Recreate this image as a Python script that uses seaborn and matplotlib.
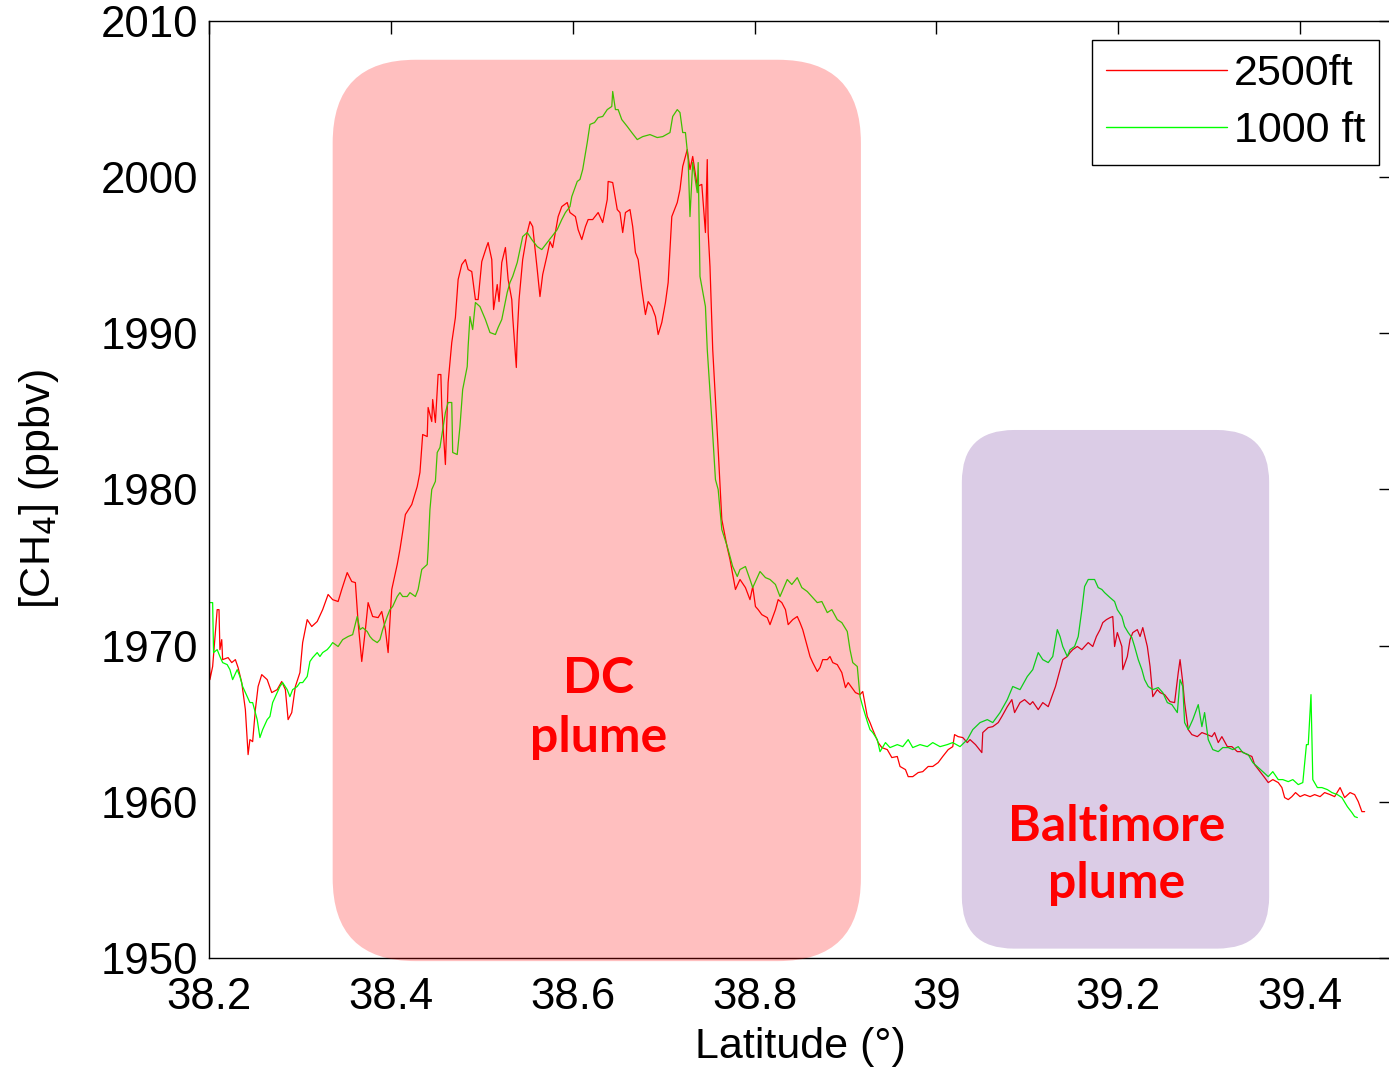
import numpy as np
import pandas as pd
import matplotlib
matplotlib.use("Agg")
import matplotlib.pyplot as plt
from matplotlib.patches import FancyBboxPatch
from matplotlib.lines import Line2D
import seaborn as sns

# ---- flight transects: latitude (deg N) and CH4 mixing ratio (ppbv) ----
lat_2500 = [38.200, 38.201, 38.204, 38.209, 38.211, 38.212, 38.214, 38.215, 38.221, 38.225,
            38.229, 38.232, 38.236, 38.240, 38.243, 38.245, 38.248, 38.251, 38.254, 38.258,
            38.264, 38.269, 38.275, 38.280, 38.284, 38.287, 38.291, 38.295, 38.300, 38.303,
            38.308, 38.313, 38.319, 38.325, 38.331, 38.336, 38.342, 38.346, 38.352, 38.357,
            38.361, 38.364, 38.368, 38.372, 38.375, 38.380, 38.386, 38.390, 38.394, 38.397,
            38.401, 38.407, 38.410, 38.416, 38.423, 38.429, 38.432, 38.435, 38.440, 38.441,
            38.445, 38.446, 38.449, 38.452, 38.455, 38.456, 38.460, 38.463, 38.467, 38.471,
            38.474, 38.478, 38.482, 38.485, 38.489, 38.493, 38.496, 38.500, 38.505, 38.507,
            38.511, 38.513, 38.517, 38.519, 38.522, 38.526, 38.529, 38.533, 38.534, 38.538,
            38.539, 38.541, 38.545, 38.550, 38.553, 38.556, 38.561, 38.564, 38.567, 38.572,
            38.575, 38.578, 38.584, 38.588, 38.594, 38.597, 38.603, 38.606, 38.610, 38.614,
            38.617, 38.622, 38.628, 38.633, 38.638, 38.639, 38.644, 38.649, 38.652, 38.655,
            38.658, 38.663, 38.666, 38.669, 38.672, 38.676, 38.680, 38.683, 38.687, 38.691,
            38.694, 38.698, 38.702, 38.705, 38.709, 38.715, 38.718, 38.721, 38.726, 38.729,
            38.732, 38.737, 38.742, 38.746, 38.748, 38.749, 38.751, 38.754, 38.760, 38.764,
            38.770, 38.773, 38.779, 38.784, 38.790, 38.795, 38.798, 38.801, 38.804, 38.808,
            38.814, 38.817, 38.823, 38.826, 38.830, 38.834, 38.837, 38.842, 38.847, 38.850,
            38.853, 38.858, 38.861, 38.864, 38.869, 38.872, 38.875, 38.880, 38.883, 38.886,
            38.891, 38.896, 38.900, 38.903, 38.907, 38.911, 38.916, 38.919, 38.924, 38.927,
            38.930, 38.936, 38.940, 38.946, 38.951, 38.957, 38.960, 38.966, 38.969, 38.974,
            38.980, 38.985, 38.991, 38.996, 39.002, 39.007, 39.013, 39.018, 39.020, 39.024,
            39.029, 39.034, 39.037, 39.043, 39.050, 39.051, 39.057, 39.062, 39.068, 39.072,
            39.078, 39.083, 39.086, 39.092, 39.097, 39.103, 39.106, 39.112, 39.117, 39.123,
            39.127, 39.131, 39.133, 39.136, 39.139, 39.144, 39.147, 39.150, 39.155, 39.160,
            39.163, 39.167, 39.172, 39.176, 39.180, 39.183, 39.187, 39.191, 39.194, 39.196,
            39.199, 39.204, 39.205, 39.210, 39.213, 39.216, 39.221, 39.224, 39.227, 39.232,
            39.235, 39.238, 39.243, 39.246, 39.251, 39.257, 39.262, 39.266, 39.268, 39.271,
            39.273, 39.277, 39.281, 39.287, 39.292, 39.298, 39.303, 39.306, 39.310, 39.314,
            39.320, 39.325, 39.331, 39.336, 39.342, 39.347, 39.350, 39.356, 39.361, 39.365,
            39.370, 39.376, 39.380, 39.383, 39.387, 39.391, 39.395, 39.400, 39.405, 39.411,
            39.416, 39.422, 39.427, 39.433, 39.438, 39.444, 39.449, 39.455, 39.460, 39.464,
            39.468, 39.471]
ch4_2500 = [1970.51, 1967.82, 1968.66, 1972.30, 1972.30, 1969.74, 1970.38, 1969.10, 1969.23, 1968.91,
            1969.10, 1968.59, 1967.63, 1965.90, 1963.02, 1963.98, 1963.85, 1965.90, 1967.38, 1968.14,
            1967.82, 1966.99, 1967.18, 1967.70, 1967.18, 1965.26, 1965.71, 1967.38, 1968.27, 1970.19,
            1971.66, 1971.22, 1971.54, 1972.30, 1973.27, 1972.94, 1972.82, 1973.59, 1974.67, 1974.10,
            1974.03, 1971.47, 1968.98, 1971.02, 1972.75, 1971.86, 1971.79, 1972.18, 1971.02, 1969.55,
            1973.59, 1975.19, 1976.15, 1978.39, 1979.03, 1980.18, 1981.08, 1983.51, 1983.38, 1985.24,
            1984.34, 1985.75, 1984.28, 1987.35, 1987.35, 1985.30, 1981.59, 1986.84, 1989.40, 1991.00,
            1993.43, 1994.39, 1994.71, 1994.07, 1993.94, 1992.15, 1992.15, 1994.58, 1995.48, 1995.80,
            1994.71, 1991.51, 1993.11, 1992.02, 1994.52, 1995.48, 1993.43, 1992.15, 1991.06, 1987.80,
            1989.91, 1992.15, 1994.71, 1996.44, 1997.14, 1996.82, 1994.07, 1992.34, 1993.75, 1995.03,
            1995.86, 1995.48, 1997.46, 1998.10, 1998.36, 1997.72, 1997.46, 1996.62, 1995.99, 1996.82,
            1997.27, 1997.27, 1997.72, 1997.08, 1998.55, 1999.71, 1999.64, 1997.91, 1997.72, 1996.44,
            1997.72, 1997.91, 1996.82, 1995.16, 1994.71, 1992.79, 1991.19, 1992.02, 1991.70, 1991.06,
            1989.91, 1990.68, 1991.96, 1993.24, 1997.46, 1998.36, 1999.19, 2000.67, 2001.75, 2000.47,
            2001.31, 1999.39, 1999.52, 1996.44, 2001.11, 1996.44, 1994.26, 1988.95, 1982.55, 1978.07,
            1976.27, 1975.51, 1973.59, 1974.23, 1973.71, 1972.94, 1973.78, 1972.50, 1972.30, 1971.98,
            1971.79, 1971.34, 1972.30, 1972.94, 1972.75, 1972.30, 1971.34, 1971.66, 1971.86, 1971.47,
            1971.02, 1969.94, 1969.30, 1968.91, 1968.34, 1968.59, 1969.10, 1969.10, 1969.30, 1968.91,
            1968.78, 1968.27, 1967.31, 1967.63, 1967.31, 1966.99, 1966.86, 1967.06, 1965.46, 1965.07,
            1964.62, 1963.79, 1963.47, 1963.34, 1962.83, 1962.90, 1962.26, 1962.06, 1961.61, 1961.61,
            1961.87, 1961.93, 1962.26, 1962.26, 1962.51, 1962.90, 1963.34, 1963.53, 1964.30, 1964.17,
            1964.11, 1963.79, 1963.98, 1963.66, 1963.15, 1964.43, 1964.75, 1964.81, 1965.07, 1965.46,
            1966.09, 1966.54, 1965.71, 1966.35, 1966.54, 1966.22, 1966.41, 1965.90, 1966.35, 1966.09,
            1966.73, 1967.38, 1967.82, 1968.46, 1969.10, 1969.30, 1969.55, 1969.74, 1969.94, 1969.74,
            1969.94, 1970.19, 1969.94, 1970.58, 1971.02, 1971.47, 1971.66, 1971.79, 1971.86, 1969.94,
            1970.83, 1969.94, 1968.46, 1969.30, 1970.38, 1970.83, 1971.02, 1970.58, 1971.15, 1969.94,
            1968.66, 1966.73, 1967.18, 1966.99, 1966.86, 1966.41, 1966.35, 1968.27, 1969.10, 1967.63,
            1966.35, 1964.62, 1964.30, 1964.17, 1964.43, 1964.30, 1964.17, 1964.43, 1963.79, 1964.17,
            1963.53, 1963.53, 1963.21, 1963.21, 1963.02, 1962.90, 1962.38, 1961.93, 1961.55, 1961.23,
            1961.42, 1961.23, 1960.91, 1960.27, 1960.14, 1960.33, 1960.59, 1960.33, 1960.46, 1960.33,
            1960.46, 1960.33, 1960.59, 1960.46, 1960.33, 1960.91, 1960.27, 1960.59, 1960.46, 1960.01,
            1959.37, 1959.37]

lat_1000 = [38.200, 38.204, 38.205, 38.209, 38.212, 38.215, 38.220, 38.223, 38.226, 38.231,
            38.234, 38.237, 38.242, 38.245, 38.248, 38.253, 38.256, 38.259, 38.264, 38.267,
            38.270, 38.275, 38.278, 38.281, 38.286, 38.289, 38.292, 38.297, 38.300, 38.303,
            38.308, 38.311, 38.314, 38.319, 38.322, 38.325, 38.330, 38.333, 38.336, 38.342,
            38.347, 38.353, 38.358, 38.363, 38.366, 38.369, 38.374, 38.377, 38.380, 38.385,
            38.388, 38.391, 38.396, 38.399, 38.402, 38.407, 38.410, 38.413, 38.418, 38.421,
            38.427, 38.430, 38.434, 38.440, 38.441, 38.443, 38.445, 38.449, 38.451, 38.454,
            38.460, 38.463, 38.467, 38.468, 38.473, 38.476, 38.479, 38.484, 38.485, 38.487,
            38.490, 38.493, 38.498, 38.504, 38.509, 38.515, 38.518, 38.522, 38.528, 38.531,
            38.534, 38.539, 38.542, 38.545, 38.550, 38.555, 38.561, 38.566, 38.572, 38.577,
            38.583, 38.588, 38.592, 38.597, 38.599, 38.605, 38.608, 38.611, 38.616, 38.619,
            38.624, 38.628, 38.633, 38.638, 38.643, 38.644, 38.647, 38.650, 38.654, 38.660,
            38.665, 38.671, 38.677, 38.685, 38.693, 38.699, 38.707, 38.710, 38.715, 38.718,
            38.721, 38.724, 38.727, 38.729, 38.732, 38.737, 38.738, 38.740, 38.746, 38.748,
            38.753, 38.757, 38.760, 38.764, 38.770, 38.776, 38.781, 38.784, 38.790, 38.795,
            38.798, 38.806, 38.812, 38.817, 38.823, 38.828, 38.836, 38.841, 38.847, 38.852,
            38.858, 38.863, 38.869, 38.874, 38.880, 38.885, 38.891, 38.896, 38.902, 38.905,
            38.908, 38.913, 38.916, 38.919, 38.924, 38.927, 38.930, 38.935, 38.938, 38.944,
            38.949, 38.957, 38.963, 38.969, 38.974, 38.982, 38.990, 38.996, 39.004, 39.012,
            39.018, 39.026, 39.034, 39.040, 39.048, 39.056, 39.062, 39.070, 39.078, 39.084,
            39.092, 39.100, 39.106, 39.112, 39.117, 39.123, 39.128, 39.133, 39.136, 39.139,
            39.144, 39.147, 39.152, 39.156, 39.160, 39.163, 39.167, 39.171, 39.174, 39.178,
            39.182, 39.185, 39.191, 39.196, 39.199, 39.204, 39.207, 39.211, 39.215, 39.218,
            39.222, 39.226, 39.229, 39.233, 39.238, 39.244, 39.249, 39.254, 39.259, 39.265,
            39.268, 39.271, 39.273, 39.277, 39.282, 39.288, 39.292, 39.295, 39.299, 39.304,
            39.310, 39.315, 39.321, 39.326, 39.332, 39.337, 39.343, 39.348, 39.354, 39.359,
            39.365, 39.370, 39.376, 39.381, 39.387, 39.392, 39.398, 39.403, 39.407, 39.409,
            39.412, 39.414, 39.419, 39.424, 39.430, 39.435, 39.441, 39.446, 39.452, 39.457,
            39.460, 39.463]
ch4_1000 = [1972.75, 1972.75, 1969.55, 1969.74, 1969.30, 1968.91, 1968.78, 1968.46, 1967.82, 1968.46,
            1968.02, 1967.38, 1966.73, 1966.35, 1966.35, 1965.26, 1964.11, 1964.62, 1965.26, 1965.46,
            1966.35, 1966.99, 1967.38, 1967.63, 1967.18, 1966.73, 1967.18, 1967.38, 1967.63, 1967.63,
            1968.02, 1968.98, 1969.23, 1969.55, 1969.30, 1969.55, 1969.74, 1969.94, 1970.19, 1969.94,
            1970.38, 1970.58, 1970.70, 1971.86, 1971.02, 1971.15, 1970.90, 1970.58, 1970.38, 1970.19,
            1970.38, 1971.02, 1971.86, 1972.30, 1972.50, 1973.14, 1973.39, 1973.14, 1973.14, 1973.39,
            1973.14, 1973.59, 1974.87, 1975.19, 1976.15, 1978.71, 1979.99, 1980.51, 1982.36, 1982.68,
            1984.92, 1985.56, 1985.56, 1982.36, 1982.23, 1984.02, 1986.39, 1987.86, 1989.14, 1991.06,
            1990.23, 1991.96, 1991.70, 1990.87, 1990.04, 1989.91, 1990.36, 1990.87, 1992.61, 1993.24,
            1993.63, 1994.52, 1995.35, 1996.18, 1996.44, 1995.99, 1995.54, 1995.35, 1995.80, 1996.18,
            1996.63, 1997.27, 1997.72, 1998.10, 1998.74, 1999.71, 1999.84, 2000.47, 2002.20, 2003.36,
            2003.48, 2003.80, 2003.87, 2004.31, 2004.51, 2005.47, 2004.31, 2004.31, 2003.67, 2003.23,
            2002.84, 2002.39, 2002.58, 2002.71, 2002.52, 2002.58, 2002.84, 2003.87, 2004.31, 2004.12,
            2002.84, 2002.84, 2001.11, 1997.46, 2000.92, 1998.99, 2000.92, 1993.63, 1991.70, 1988.95,
            1984.47, 1980.63, 1979.99, 1977.43, 1976.34, 1975.06, 1974.42, 1974.87, 1975.06, 1974.23,
            1973.71, 1974.74, 1974.35, 1974.23, 1973.91, 1973.14, 1974.23, 1973.91, 1974.35, 1973.71,
            1973.46, 1973.14, 1972.75, 1972.82, 1972.11, 1972.30, 1971.66, 1971.47, 1970.90, 1969.74,
            1968.91, 1968.66, 1966.73, 1966.09, 1965.14, 1964.62, 1964.43, 1963.98, 1963.21, 1963.79,
            1963.47, 1963.66, 1963.53, 1963.98, 1963.47, 1963.66, 1963.53, 1963.79, 1963.53, 1963.66,
            1963.79, 1963.53, 1963.98, 1964.62, 1965.07, 1965.26, 1965.07, 1965.71, 1966.54, 1967.38,
            1967.18, 1968.02, 1968.46, 1969.55, 1969.10, 1968.91, 1969.30, 1971.02, 1970.58, 1969.94,
            1969.30, 1969.74, 1969.94, 1970.58, 1972.30, 1973.78, 1974.23, 1974.23, 1974.23, 1973.71,
            1973.59, 1973.39, 1973.07, 1972.82, 1972.30, 1971.86, 1971.22, 1970.83, 1970.51, 1969.94,
            1969.10, 1968.46, 1967.82, 1967.38, 1967.18, 1967.31, 1966.99, 1966.35, 1966.22, 1965.71,
            1967.82, 1967.38, 1965.07, 1964.62, 1965.26, 1966.22, 1964.81, 1965.71, 1963.98, 1963.34,
            1963.21, 1963.47, 1963.47, 1963.34, 1963.53, 1963.15, 1963.02, 1962.51, 1962.19, 1961.93,
            1961.61, 1961.93, 1961.42, 1961.42, 1961.29, 1961.42, 1961.10, 1961.23, 1963.66, 1963.66,
            1966.86, 1961.42, 1960.91, 1960.91, 1960.78, 1960.59, 1960.46, 1960.27, 1959.69, 1959.31,
            1959.05, 1958.99]

series_labels = ["2500ft", "1000 ft"]
series_colors = ["#ff0000", "#00ff00"]

x_ticks = [38.2, 38.4, 38.6, 38.8, 39.0, 39.2, 39.4]
x_tick_labels = ["38.2", "38.4", "38.6", "38.8", "39", "39.2", "39.4"]
y_ticks = [1950, 1960, 1970, 1980, 1990, 2000, 2010]

# plume regions (lat range, ppbv range)
dc_region = (38.336, 38.917, 1949.8, 2007.5)
balt_region = (39.028, 39.366, 1950.6, 1983.8)

df = pd.concat([
    pd.DataFrame({"lat": lat_2500, "ch4": ch4_2500, "alt": series_labels[0]}),
    pd.DataFrame({"lat": lat_1000, "ch4": ch4_1000, "alt": series_labels[1]}),
], ignore_index=True)

sns.set_style("white")
plt.rcParams["font.family"] = ["Liberation Sans", "DejaVu Sans"]
plt.rcParams["text.color"] = "black"
plt.rcParams["axes.labelcolor"] = "black"
plt.rcParams["xtick.color"] = "black"
plt.rcParams["ytick.color"] = "black"

W, H = 1389, 1072
fig = plt.figure(figsize=(W / 100, H / 100), dpi=100)
ax = fig.add_axes([209 / W, 1 - 958 / H, (1391 - 209) / W, (958 - 20.7) / H])

sns.lineplot(data=df, x="lat", y="ch4", hue="alt", hue_order=series_labels,
             palette=dict(zip(series_labels, series_colors)), sort=False,
             estimator=None, linewidth=0.9, legend=False, ax=ax, zorder=2)

ax.set_xlim(38.2, 39.5)
ax.set_ylim(1950, 2010)
ax.set_xticks(x_ticks)
ax.set_xticklabels(x_tick_labels)
ax.set_yticks(y_ticks)
ax.tick_params(direction="in", top=True, right=True, length=9, width=1.0,
               labelsize=31.5, colors="black")
ax.tick_params(axis="x", pad=14)
ax.tick_params(axis="y", pad=8)
for s in ax.spines.values():
    s.set_visible(True)
    s.set_color("black")
    s.set_linewidth(1.0)

ax.set_xlabel("Latitude (°)", fontsize=31, labelpad=6, color="black")
ax.set_ylabel("[CH$_4$] (ppbv)", fontsize=31, labelpad=28, color="black")

# rounded plume boxes with circular corners in screen space
bb = ax.get_window_extent()
sx = bb.width / (39.5 - 38.2)
sy = bb.height / (2010 - 1950)


def plume_box(region, radius_px, color, alpha):
    x0, x1, y0, y1 = region
    patch = FancyBboxPatch((x0, y0), x1 - x0, y1 - y0,
                           boxstyle=f"round,pad=0,rounding_size={radius_px / sx}",
                           mutation_aspect=sx / sy, facecolor=color, edgecolor="none",
                           alpha=alpha, zorder=3, clip_on=False, transform=ax.transData)
    ax.add_patch(patch)


plume_box(dc_region, 83, "#ff0000", 0.25)
plume_box(balt_region, 52, "#4b0082", 0.20)

ax.text(38.628, 1966.0, "DC\nplume", color="#ff0000", fontsize=36,
        fontweight="bold", family=["Lato", "DejaVu Sans"], ha="center", va="center",
        linespacing=1.38, zorder=5)
ax.text(39.198, 1956.6, "Baltimore\nplume", color="#ff0000", fontsize=36,
        fontweight="bold", family=["Lato", "DejaVu Sans"], ha="center", va="center",
        linespacing=1.32, zorder=5)

handles = [Line2D([], [], color=c, lw=1.0) for c in series_colors]
leg = ax.legend(handles, series_labels, loc="upper right", bbox_to_anchor=(0.990, 0.979),
                borderaxespad=0, fontsize=31, frameon=True, fancybox=False,
                framealpha=1, edgecolor="black", handlelength=2.8, handletextpad=0.17,
                borderpad=0.32, labelspacing=0.4)
leg.get_frame().set_linewidth(1.0)
leg.set_zorder(6)

fig.savefig("out.png", dpi=100)
